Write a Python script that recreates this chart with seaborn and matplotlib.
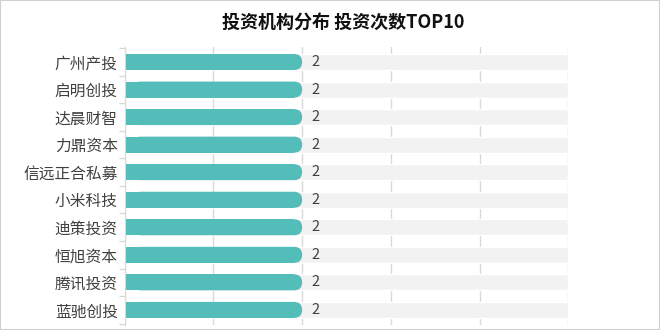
import pandas as pd
import matplotlib.pyplot as plt
import seaborn as sns
from matplotlib.patches import FancyBboxPatch, Rectangle

# Dados do gráfico
instituicoes = ['广州产投', '启明创投', '达晨财智', '力鼎资本', '信远正合私募',
                '小米科技', '迪策投资', '恒旭资本', '腾讯投资', '蓝驰创投']
investimentos = [2, 2, 2, 2, 2, 2, 2, 2, 2, 2]
eixo_max = 5
titulo = '投资机构分布 投资次数TOP10'

df = pd.DataFrame({'instituicao': instituicoes, 'valor': investimentos,
                   'fundo': [eixo_max] * len(instituicoes)})

sns.set_style('white')
plt.rcParams['font.family'] = ['Noto Sans CJK SC', 'DejaVu Sans']

fig = plt.figure(figsize=(6.6, 3.3), dpi=100)
ax = fig.add_axes([0.189, 0.015, 0.672, 0.843])

# Barras de fundo cinza e barras principais
sns.barplot(data=df, y='instituicao', x='fundo', color='#f2f2f2', width=0.58,
            saturation=1, ax=ax, zorder=1)
n_fundo = len(ax.patches)
sns.barplot(data=df, y='instituicao', x='valor', color='#52bdb9', width=0.58,
            saturation=1, ax=ax, zorder=2)

ax.set_xlim(0, eixo_max)
ax.set_ylim(len(instituicoes) - 0.45, -0.55)
ax.set_xticks(range(0, eixo_max + 1))
ax.xaxis.grid(True, color='#d9d9d9', linewidth=1)
ax.set_axisbelow(True)
ax.tick_params(axis='x', length=0, labelbottom=False)
ax.set_yticks([i + 0.5 for i in range(-1, len(instituicoes))], minor=True)
ax.tick_params(axis='y', which='major', length=0, labelsize=11.3, labelcolor='#404040', pad=5)
ax.tick_params(axis='y', which='minor', length=4, color='#d9d9d9', width=1, left=True)
ax.set_xlabel('')
ax.set_ylabel('')
for lado in ['top', 'right', 'bottom']:
    ax.spines[lado].set_visible(False)
ax.spines['left'].set_color('#d9d9d9')

# Pontas arredondadas nas barras principais
fig.canvas.draw()
for p in ax.patches[n_fundo:]:
    bb = p.get_window_extent()
    r = bb.height / 2
    p.set_visible(False)
    ax.add_artist(Rectangle((bb.x0, bb.y0), bb.width - r, bb.height, transform=None,
                            facecolor='#52bdb9', edgecolor='none', zorder=2))
    ax.add_artist(FancyBboxPatch((bb.x0 + r, bb.y0), bb.width - r, bb.height,
                                 boxstyle=f'round,pad=0,rounding_size={r}', transform=None,
                                 facecolor='#52bdb9', edgecolor='none', zorder=2))

for i, v in enumerate(investimentos):
    ax.text(v + 0.1, i, str(v), va='center', ha='left', fontsize=10.5, color='#404040')

fig.text(0.52, 0.932, titulo, ha='center', va='center', fontsize=13,
         fontweight='heavy', color='#111111')
fig.add_artist(Rectangle((0, 0), 1, 1, transform=fig.transFigure, fill=False,
                         edgecolor='#d0d0d0', linewidth=1.5))

fig.savefig('out.png', dpi=100)
